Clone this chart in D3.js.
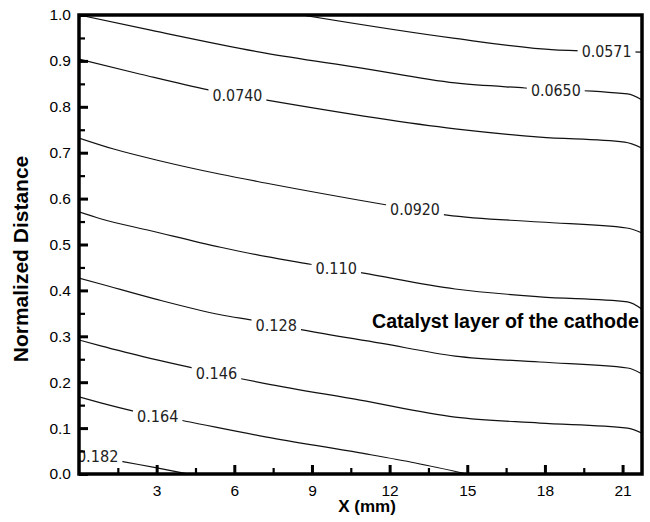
<!DOCTYPE html>
<html>
<head>
<meta charset="utf-8">
<script src="https://cdn.jsdelivr.net/npm/d3@7"></script>
<style>
  html, body { margin: 0; padding: 0; background: #fff; }
  svg { display: block; }
</style>
</head>
<body>
<svg id="chart" width="650" height="522"></svg>
<script>
// Contour levels and their isolines: [x (mm), normalized distance]
const levels = ["0.0571", "0.0650", "0.0740", "0.0920", "0.110", "0.128", "0.146", "0.164", "0.182"];

const line0571 = [[8.6, 1.0], [14.53, 0.949], [18.38, 0.924], [19.42, 0.922], [21.75, 0.919]];
const line0650 = [[0, 1.0], [2.77, 0.967], [7.2, 0.917], [10.86, 0.885], [14.53, 0.852], [17.23, 0.841], [21.19, 0.828], [21.75, 0.815]];
const line0740 = [[0, 0.904], [2.38, 0.871], [5.0, 0.837], [7.2, 0.815], [14.53, 0.752], [17.8, 0.734], [21.08, 0.723], [21.75, 0.710]];
const line0920 = [[0, 0.732], [1.34, 0.708], [3.15, 0.682], [5.47, 0.653], [7.2, 0.634], [11.9, 0.586], [14.22, 0.564], [17.8, 0.549], [21.16, 0.536], [21.75, 0.525]];
const line110  = [[0, 0.571], [0.83, 0.556], [2.77, 0.530], [5.47, 0.494], [7.2, 0.474], [8.94, 0.457], [10.94, 0.438], [14.53, 0.403], [17.8, 0.386], [21.19, 0.375], [21.75, 0.359]];
const line128  = [[0, 0.427], [0.84, 0.414], [2.96, 0.381], [5.47, 0.347], [6.82, 0.334], [8.63, 0.314], [11.64, 0.285], [14.53, 0.257], [17.8, 0.244], [21.19, 0.231], [21.75, 0.218]];
const line146  = [[0, 0.292], [0.84, 0.279], [1.81, 0.265], [4.39, 0.231], [6.31, 0.207], [7.2, 0.197], [10.86, 0.161], [14.53, 0.124], [17.8, 0.111], [21.19, 0.100], [21.75, 0.089]];
const line164  = [[0, 0.168], [0.84, 0.155], [2.19, 0.136], [4.12, 0.115], [7.2, 0.081], [10.86, 0.046], [13.0, 0.024], [15.0, 0.0]];
const line182  = [[0, 0.046], [1.69, 0.027], [2.96, 0.014], [4.2, 0.0]];

// x position (mm) of each contour's inline label
const labelX = [20.38, 18.42, 6.12, 12.98, 9.94, 7.62, 5.31, 3.04, 0.72];

// Axis ticks
const xMajorTicks = [3, 6, 9, 12, 15, 18, 21];
const xMinorTicks = [1.5, 4.5, 7.5, 10.5, 13.5, 16.5, 19.5];
const yMajorTicks = [0, 0.1, 0.2, 0.3, 0.4, 0.5, 0.6, 0.7, 0.8, 0.9, 1.0];
const yMinorTicks = [0.05, 0.15, 0.25, 0.35, 0.45, 0.55, 0.65, 0.75, 0.85, 0.95];

const xTitle = "X (mm)";
const yTitle = "Normalized Distance";
const regionNote = "Catalyst layer of the cathode";

const contours = [line0571, line0650, line0740, line0920, line110, line128, line146, line164, line182];

const svg = d3.select("#chart");
const plot = { left: 79, right: 642, top: 15, bottom: 474 };

const x = d3.scaleLinear().domain([0, 21.75]).range([plot.left, plot.right]);
const y = d3.scaleLinear().domain([0, 1]).range([plot.bottom, plot.top]);

svg.append("defs").append("clipPath").attr("id", "plotClip")
  .append("rect")
  .attr("x", plot.left).attr("y", plot.top)
  .attr("width", plot.right - plot.left).attr("height", plot.bottom - plot.top);

const lineGen = d3.line()
  .x(d => x(d[0]))
  .y(d => y(d[1]))
  .curve(d3.curveMonotoneX);

const g = svg.append("g").attr("clip-path", "url(#plotClip)");

g.selectAll("path.iso")
  .data(contours)
  .join("path")
  .attr("class", "iso")
  .attr("d", lineGen)
  .attr("fill", "none")
  .attr("stroke", "#111")
  .attr("stroke-width", 1.2);

// value of the isoline at a given x, for placing the label on the line
function yAt(pts, xv) {
  for (let i = 0; i < pts.length - 1; i++) {
    const a = pts[i], b = pts[i + 1];
    if (xv >= a[0] && xv <= b[0]) {
      const t = (xv - a[0]) / (b[0] - a[0]);
      return a[1] + t * (b[1] - a[1]);
    }
  }
  return pts[pts.length - 1][1];
}

const labelFont = "'Liberation Sans Narrow', 'Arial Narrow', 'DejaVu Sans Condensed', sans-serif";
const labels = g.selectAll("g.lbl")
  .data(levels.map((lv, i) => ({ text: lv, x: labelX[i], y: yAt(contours[i], labelX[i]) })))
  .join("g")
  .attr("class", "lbl")
  .attr("transform", d => `translate(${x(d.x)},${y(d.y)})`);

labels.each(function (d) {
  const el = d3.select(this);
  const w = d.text.length * 8.3;
  el.append("rect")
    .attr("x", -w / 2 - 4).attr("y", -8)
    .attr("width", w + 8).attr("height", 16)
    .attr("fill", "#fff");
  el.append("text")
    .attr("text-anchor", "middle")
    .attr("dy", "0.36em")
    .attr("font-family", labelFont)
    .attr("font-size", 16)
    .attr("fill", "#222")
    .attr("textLength", w)
    .attr("lengthAdjust", "spacingAndGlyphs")
    .text(d.text);
});

// Axes: ticks point inward
const tickFont = "'Liberation Sans', Arial, sans-serif";

const xAxis = svg.append("g")
  .attr("transform", `translate(0,${plot.bottom})`)
  .call(d3.axisBottom(x).tickValues(xMajorTicks).tickSize(-9).tickPadding(11).tickFormat(d3.format("d")));
const xMinor = svg.append("g")
  .attr("transform", `translate(0,${plot.bottom})`)
  .call(d3.axisBottom(x).tickValues(xMinorTicks).tickSize(-6).tickFormat(""));
const yAxis = svg.append("g")
  .attr("transform", `translate(${plot.left},0)`)
  .call(d3.axisLeft(y).tickValues(yMajorTicks).tickSize(-9).tickPadding(8).tickFormat(d3.format(".1f")));
const yMinor = svg.append("g")
  .attr("transform", `translate(${plot.left},0)`)
  .call(d3.axisLeft(y).tickValues(yMinorTicks).tickSize(-6).tickFormat(""));

[xAxis, xMinor, yAxis, yMinor].forEach(a => {
  a.select(".domain").remove();
  a.selectAll("line").attr("stroke", "#000");
  a.selectAll("text")
    .attr("font-family", tickFont)
    .attr("font-size", 15.5)
    .attr("fill", "#000");
});
[xAxis, yAxis].forEach(a => a.selectAll("line").attr("stroke-width", 3));
[xMinor, yMinor].forEach(a => a.selectAll("line").attr("stroke-width", 2.2));

// Frame
svg.append("rect")
  .attr("x", plot.left).attr("y", plot.top)
  .attr("width", plot.right - plot.left).attr("height", plot.bottom - plot.top)
  .attr("fill", "none")
  .attr("stroke", "#000")
  .attr("stroke-width", 3.5);

// Titles
svg.append("text")
  .attr("x", 367).attr("y", 512)
  .attr("text-anchor", "middle")
  .attr("font-family", tickFont)
  .attr("font-weight", "bold")
  .attr("font-size", 17)
  .text(xTitle);

svg.append("text")
  .attr("transform", "translate(28,259) rotate(-90)")
  .attr("text-anchor", "middle")
  .attr("font-family", tickFont)
  .attr("font-weight", "bold")
  .attr("font-size", 21)
  .text(yTitle);

svg.append("text")
  .attr("x", 372).attr("y", 328)
  .attr("font-family", tickFont)
  .attr("font-weight", "bold")
  .attr("font-size", 19.6)
  .text(regionNote);
</script>
</body>
</html>
